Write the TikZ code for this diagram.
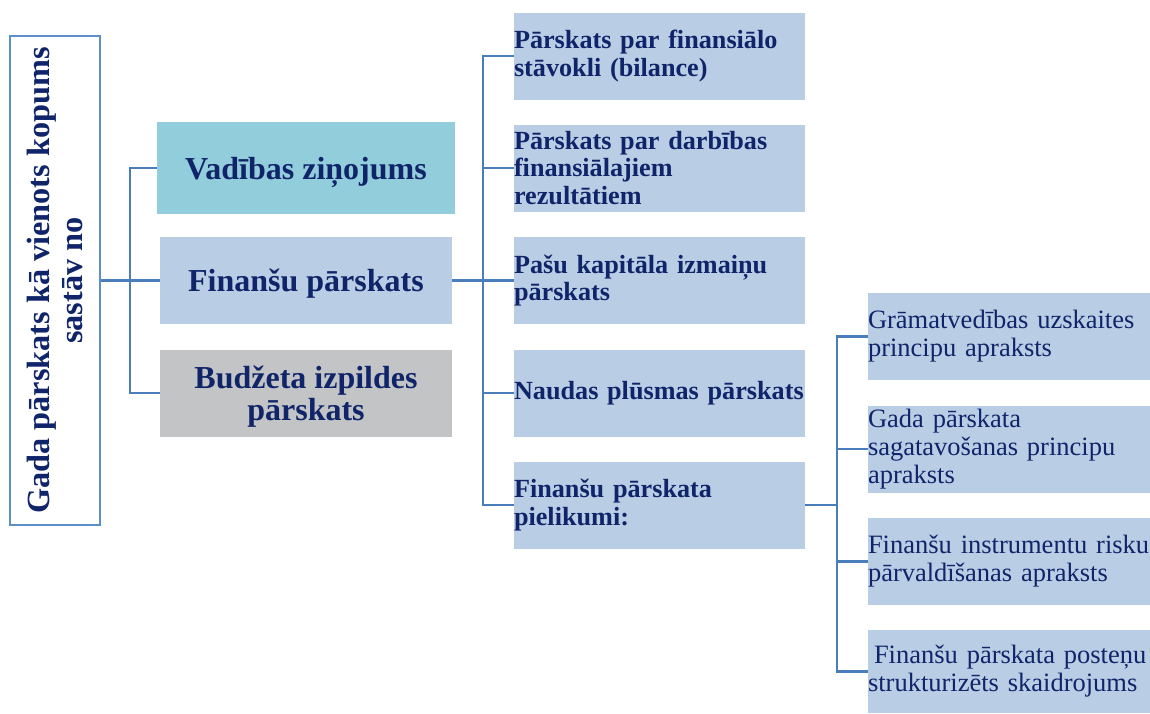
\documentclass[tikz,border=0pt]{standalone}
\usepackage{fontspec}
\setmainfont{Liberation Serif}
\begin{document}
\begin{tikzpicture}[x=1pt,y=-1pt,
  txt/.style={text=navy},
  conn/.style={draw=lineblue,line width=2.8pt},
  midbox/.style={inner sep=0pt,minimum width=292pt,minimum height=87pt},
  midtext/.style={txt,inner sep=0pt,align=center,yshift=-4pt,
    font=\fontsize{32}{32}\selectfont\bfseries},
  rbox/.style={txt,fill=boxblue,inner sep=0pt,text width=291pt,minimum height=87pt,align=left,
    font=\fontsize{26.2}{27.5}\selectfont\bfseries},
  fbox/.style={txt,fill=boxblue,inner sep=0pt,text width=282pt,minimum height=87pt,align=left,
    font=\fontsize{26.5}{28}\selectfont}]
\definecolor{navy}{HTML}{10246A}
\definecolor{lineblue}{HTML}{4A7EBB}
\definecolor{rootline}{HTML}{5B8FC7}
\definecolor{boxblue}{HTML}{B9CDE5}
\definecolor{boxteal}{HTML}{92CDDC}
\definecolor{boxgray}{HTML}{C3C4C6}
\useasboundingbox (0,0) rectangle (1150,713);
% root
\node[txt,draw=rootline,line width=2pt,fill=white,rotate=90,inner sep=0pt,
  minimum width=489pt,minimum height=90pt,align=center,
  font=\fontsize{32.3}{33}\selectfont\bfseries] (root) at (55,280.5)
  {Gada pārskats kā vienots kopums\\sastāv no};
% middle column
\node[midbox,fill=boxteal,minimum width=298pt,minimum height=92pt,
  label={[midtext]center:Vadības ziņojums}] (vad) at (306,168) {};
\node[midbox,fill=boxblue,label={[midtext,yshift=1pt]center:Finanšu pārskats}] (fin) at (306,280.5) {};
\node[midbox,fill=boxgray,label={[midtext]center:Budžeta izpildes\\pārskats}] (bud) at (306,393) {};
% right column
\node[rbox] (r1) at (659.5,56) {Pārskats par finansiālo\\stāvokli (bilance)};
\node[rbox] (r2) at (659.5,168) {Pārskats par darbības\\finansiālajiem\\rezultātiem};
\node[rbox] (r3) at (659.5,280.5) {Pašu kapitāla izmaiņu\\pārskats};
\node[rbox] (r4) at (659.5,393) {Naudas plūsmas pārskats};
\node[rbox] (r5) at (659.5,505) {Finanšu pārskata\\pielikumi:};
% far right column
\node[fbox] (f1) at (1009,336.5) {Grāmatvedības uzskaites\\principu apraksts};
\node[fbox] (f2) at (1009,449) {Gada pārskata\\sagatavošanas principu\\apraksts};
\node[fbox] (f3) at (1009,561.5) {Finanšu instrumentu risku\\pārvaldīšanas apraksts};
\node[fbox,minimum height=83pt] (f4) at (1009,671.5) {\hspace{6pt}Finanšu pārskata posteņu\\strukturizēts skaidrojums};
% junctions
\coordinate (j0) at (130,280.5);
\coordinate (j1) at (483,280.5);
\coordinate (j2) at (837,505);
% connectors
\draw[conn] (root.south) -- (j0);
\draw[conn] (vad.west) -| (j0) |- (bud.west);
\draw[conn] (j0) -- (fin.west);
\draw[conn] (fin.east) -- (j1);
\draw[conn] (r1.west) -| (j1) |- (r5.west);
\draw[conn] (r2.west) -- (r2.west -| j1);
\draw[conn] (r3.west) -- (j1);
\draw[conn] (r4.west) -- (r4.west -| j1);
\draw[conn] (r5.east) -- (j2);
\draw[conn] (f1.west) -| (j2) |- (f4.west);
\draw[conn] (f2.west) -- (f2.west -| j2);
\draw[conn] (f3.west) -- (f3.west -| j2);
\end{tikzpicture}
\end{document}
